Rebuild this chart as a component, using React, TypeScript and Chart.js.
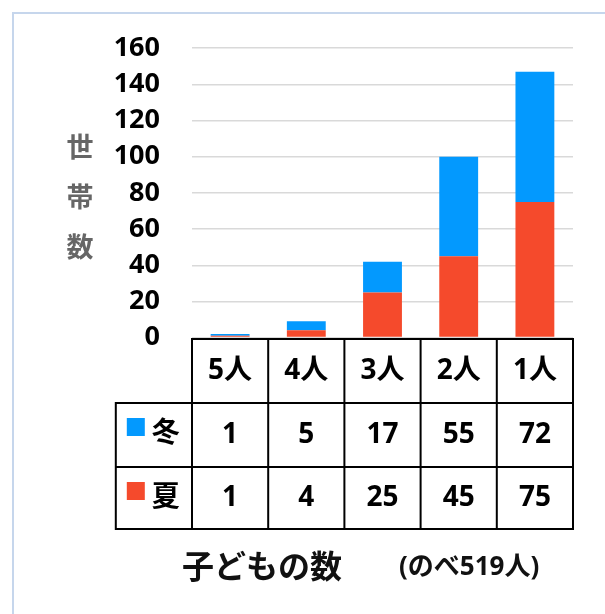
import React, { useEffect, useRef } from "react";
import { Chart, registerables } from "chart.js";

Chart.register(...registerables);

const categories = ["5人", "4人", "3人", "2人", "1人"];
const winterValues = [1, 5, 17, 55, 72];
const summerValues = [1, 4, 25, 45, 75];
const winterName = "冬";
const summerName = "夏";
const yTitleChars = ["世", "帯", "数"];
const xTitle = "子どもの数";
const xNote = "(のべ519人)";

const BLUE = "#0399fe";
const RED = "#f54a2c";
const FONT = "'Open Sans', 'Noto Sans CJK JP', sans-serif";

const tablePlugin = {
  id: "dataTable",
  beforeDraw(chart: any) {
    const ctx = chart.ctx;
    ctx.save();
    ctx.fillStyle = "#ffffff";
    ctx.fillRect(0, 0, chart.width, chart.height);
    ctx.strokeStyle = "#c6d6ec";
    ctx.lineWidth = 2;
    ctx.beginPath();
    ctx.moveTo(13, chart.height);
    ctx.lineTo(13, 13);
    ctx.lineTo(chart.width, 13);
    ctx.stroke();
    ctx.restore();
  },
  afterDraw(chart: any) {
    const ctx = chart.ctx;
    const area = chart.chartArea;
    const xs = chart.scales.x;
    const n = categories.length;
    const cw = area.width / n;
    const base = Math.round(area.bottom) + 1;
    const rows = [base, base + 64, base + 128, base + 190];
    const labelLeft = area.left - cw;
    ctx.save();
    ctx.strokeStyle = "#000";
    ctx.lineWidth = 2;
    ctx.beginPath();
    ctx.moveTo(area.left, rows[0]);
    ctx.lineTo(area.right, rows[0]);
    for (let r = 1; r < rows.length; r++) {
      ctx.moveTo(labelLeft, rows[r]);
      ctx.lineTo(area.right, rows[r]);
    }
    for (let i = 0; i <= n; i++) {
      const x = area.left + i * cw;
      ctx.moveTo(x, rows[0] - 1);
      ctx.lineTo(x, rows[3] + 1);
    }
    ctx.moveTo(labelLeft, rows[1] - 1);
    ctx.lineTo(labelLeft, rows[3] + 1);
    ctx.stroke();

    ctx.fillStyle = "#000";
    ctx.font = `bold 28px ${FONT}`;
    ctx.textAlign = "center";
    ctx.textBaseline = "middle";
    const rowData = [categories, winterValues.map(String), summerValues.map(String)];
    for (let r = 0; r < 3; r++) {
      const cy = (rows[r] + rows[r + 1]) / 2;
      rowData[r].forEach((t, i) => {
        const cx = xs.getPixelForValue(i);
        ctx.fillText(t, cx, cy);
      });
    }
    const names = [winterName, summerName];
    const colors = [BLUE, RED];
    for (let r = 0; r < 2; r++) {
      const top = rows[r + 1];
      ctx.fillStyle = colors[r];
      ctx.fillRect(labelLeft + 11, top + 15, 18, 18);
      ctx.fillStyle = "#000";
      ctx.textAlign = "left";
      ctx.fillText(names[r], labelLeft + 36, top + 31);
    }

    ctx.fillStyle = "#666";
    ctx.textAlign = "center";
    ctx.font = `bold 27px ${FONT}`;
    yTitleChars.forEach((c, i) => {
      ctx.fillText(c, 80, 149 + i * 50);
    });

    ctx.fillStyle = "#111";
    ctx.font = `bold 32px ${FONT}`;
    ctx.textAlign = "left";
    ctx.fillText(xTitle, 182, 569);
    ctx.font = `bold 26px ${FONT}`;
    ctx.fillText(xNote, 399, 568);
    ctx.restore();
  },
};

export default function App() {
  const ref = useRef<HTMLCanvasElement>(null);
  useEffect(() => {
    if (!ref.current) return;
    const chart = new Chart(ref.current, {
      type: "bar",
      data: {
        labels: categories,
        datasets: [
          { label: summerName, data: summerValues, backgroundColor: RED, borderWidth: 0 },
          { label: winterName, data: winterValues, backgroundColor: BLUE, borderWidth: 0 },
        ],
      },
      options: {
        animation: false,
        responsive: false,
        devicePixelRatio: 1,
        layout: { padding: { top: 44, right: 32, bottom: 276.4, left: 0 } },
        datasets: { bar: { categoryPercentage: 1, barPercentage: 0.51 } },
        plugins: { legend: { display: false }, tooltip: { enabled: false }, title: { display: false } },
        scales: {
          x: { stacked: true, display: false },
          y: {
            stacked: true,
            min: 0,
            max: 160,
            ticks: {
              stepSize: 20,
              padding: 32,
              color: "#000",
              font: { family: FONT, size: 27, weight: "bold" },
            },
            grid: { color: "#d9d9d9", lineWidth: 1.5, drawTicks: false },
            border: { display: false },
            afterFit(scale: any) {
              scale.width = 192;
            },
          },
        },
      },
      plugins: [tablePlugin],
    });
    return () => chart.destroy();
  }, []);
  return (
    <canvas
      ref={ref}
      width={605}
      height={614}
      style={{ position: "absolute", left: 0, top: 0, width: 605, height: 614 }}
    />
  );
}
